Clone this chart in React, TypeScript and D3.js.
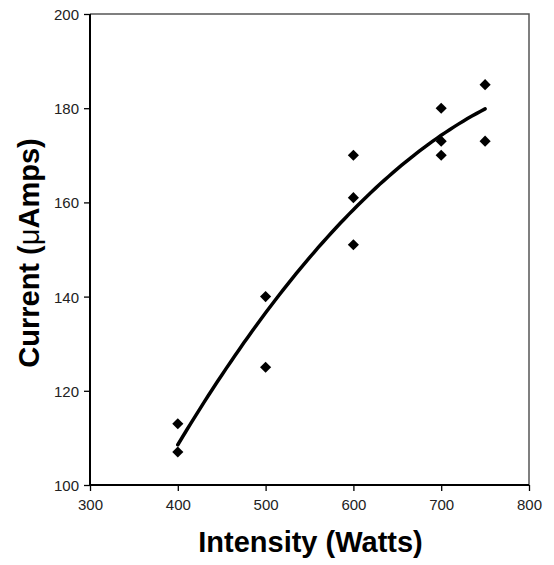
import React, { useEffect, useRef } from 'react';
import * as d3 from 'd3';

// readings, in watts / microamps
const intensity = [400, 400, 500, 500, 600, 600, 600, 700, 700, 700, 750, 750];
const current = [113, 107, 140, 125, 170, 161, 151, 180, 173, 170, 185, 173];
const xTicks = [300, 400, 500, 600, 700, 800];
const yTicks = [100, 120, 140, 160, 180, 200];

const width = 554;
const height = 565;
const margin = { top: 14, right: 25, bottom: 80, left: 90 };

// second order least squares, like the excel polynomial trendline
function quadFit(xs: number[], ys: number[]) {
    const x0 = 400;
    let s = [0, 0, 0, 0, 0];
    let t = [0, 0, 0];
    xs.forEach((x, i) => {
        const u = (x - x0) / 100;
        for (let k = 0; k < 5; k++) s[k] += Math.pow(u, k);
        for (let k = 0; k < 3; k++) t[k] += Math.pow(u, k) * ys[i];
    });
    // 3x3 solve (cramer)
    const m = [
        [s[0], s[1], s[2]],
        [s[1], s[2], s[3]],
        [s[2], s[3], s[4]],
    ];
    const det = (a: number[][]) =>
        a[0][0] * (a[1][1] * a[2][2] - a[1][2] * a[2][1]) -
        a[0][1] * (a[1][0] * a[2][2] - a[1][2] * a[2][0]) +
        a[0][2] * (a[1][0] * a[2][1] - a[1][1] * a[2][0]);
    const d = det(m);
    const coef = [0, 1, 2].map(c => {
        const mm = m.map((row, r) => row.map((v, j) => (j === c ? t[r] : v)));
        return det(mm) / d;
    });
    return (x: number) => {
        const u = (x - x0) / 100;
        return coef[0] + coef[1] * u + coef[2] * u * u;
    };
}

export default function App() {
    const ref = useRef<SVGSVGElement>(null);

    useEffect(() => {
        const svg = d3.select(ref.current);
        svg.selectAll('*').remove();

        const x = d3.scaleLinear().domain([300, 800]).range([margin.left, width - margin.right]);
        const y = d3.scaleLinear().domain([100, 200]).range([height - margin.bottom, margin.top]);

        const x1 = x.range()[0], x2 = x.range()[1];
        const y1 = y.range()[1], y2 = y.range()[0];

        // frame: top and right lighter
        svg.append('path')
            .attr('d', `M${x1},${y1}H${x2}V${y2}`)
            .attr('fill', 'none')
            .attr('stroke', '#555')
            .attr('stroke-width', 1.5);

        const xAxis = svg.append('g')
            .attr('transform', `translate(0,${y2})`)
            .call(d3.axisBottom(x).tickValues(xTicks).tickSize(6).tickPadding(8));
        const yAxis = svg.append('g')
            .attr('transform', `translate(${x1},0)`)
            .call(d3.axisLeft(y).tickValues(yTicks).tickSize(6).tickPadding(5));

        [xAxis, yAxis].forEach(g => {
            g.select('.domain').attr('stroke', '#000').attr('stroke-width', 2);
            g.selectAll('.tick line').attr('stroke', '#000').attr('stroke-width', 1.3);
            g.selectAll('.tick text')
                .attr('fill', '#222')
                .attr('font-family', 'Liberation Sans, Arial, sans-serif')
                .attr('font-size', 15);
        });
        xAxis.select('.domain').attr('d', `M${x1},0H${x2}`);
        yAxis.select('.domain').attr('d', `M0,${y2}V${y1}`);
        yAxis.selectAll('.tick text').attr('dy', '0.36em');

        // trendline
        const fit = quadFit(intensity, current);
        const line = d3.line<number>().x(d => x(d)).y(d => y(fit(d)));
        svg.append('path')
            .datum(d3.range(400, 751, 5))
            .attr('d', line)
            .attr('fill', 'none')
            .attr('stroke', '#000')
            .attr('stroke-width', 3.5)
            .attr('stroke-linecap', 'round');

        // diamonds
        const diamond = d3.symbol().type(d3.symbolSquare).size(62);
        svg.selectAll('.pt')
            .data(intensity)
            .enter()
            .append('path')
            .attr('class', 'pt')
            .attr('d', diamond)
            .attr('transform', (d, i) => `translate(${x(d)},${y(current[i])}) rotate(45)`)
            .attr('fill', '#000');

        svg.append('text')
            .attr('x', (x1 + x2) / 2 + 1)
            .attr('y', 552)
            .attr('text-anchor', 'middle')
            .attr('font-family', 'Liberation Sans, Arial, sans-serif')
            .attr('font-weight', 'bold')
            .attr('font-size', 29)
            .text('Intensity (Watts)');

        const yt = svg.append('text')
            .attr('transform', `translate(39,253) rotate(-90)`)
            .attr('text-anchor', 'middle')
            .attr('font-family', 'Liberation Sans, Arial, sans-serif')
            .attr('font-weight', 'bold')
            .attr('font-size', 29);
        yt.append('tspan').text('Current (');
        yt.append('tspan').attr('font-weight', 'normal').text('μ');
        yt.append('tspan').text('Amps)');
    }, []);

    return (
        <svg
            ref={ref}
            width={width}
            height={height}
            style={{ position: 'absolute', left: 0, top: 0, background: '#fff' }}
        />
    );
}
